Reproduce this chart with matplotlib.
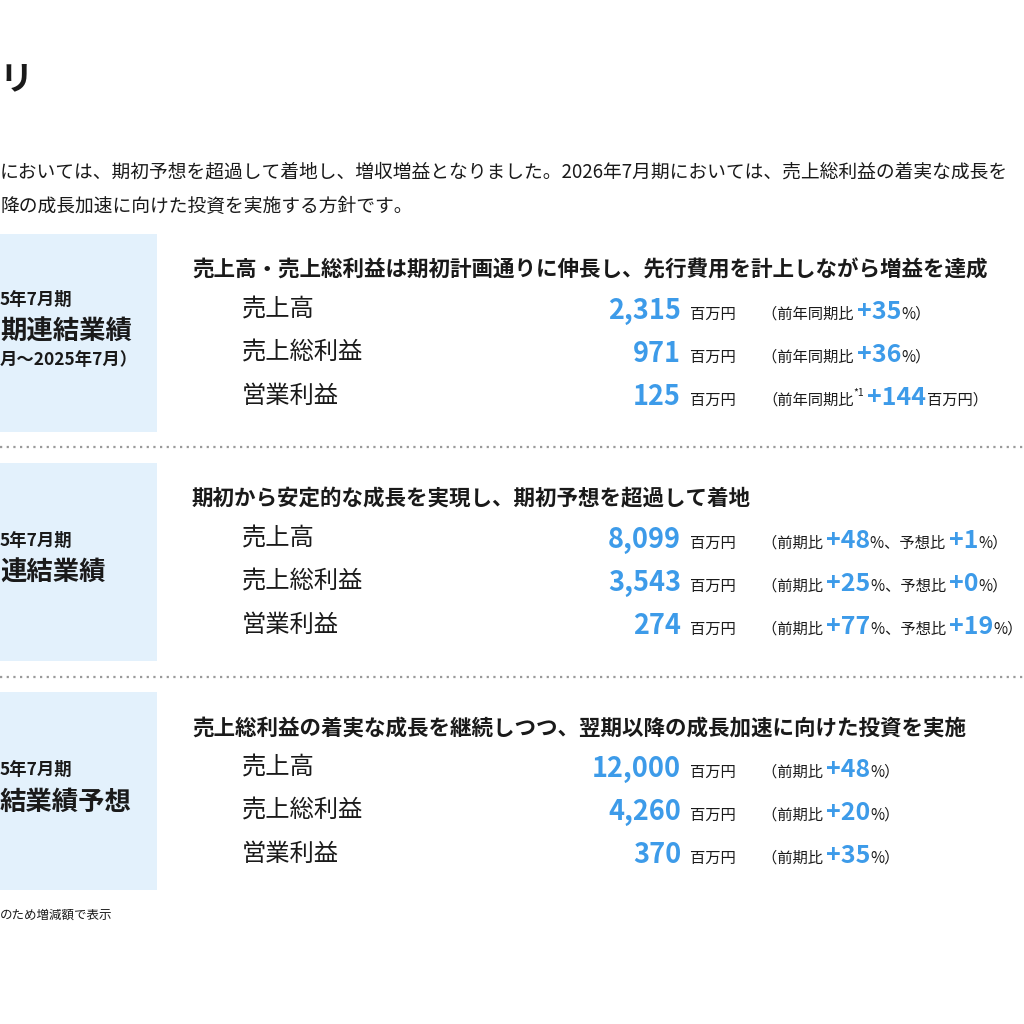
"""Earnings summary slide (cropped): three blue label panels with KPI rows."""
import matplotlib

matplotlib.use("agg")
import matplotlib.pyplot as plt  # noqa: E402

plt.rcParams["font.family"] = ["Noto Sans CJK JP", "DejaVu Sans"]

BLUE = "#3D9BE9"
INK = "#1A1A1A"
PANEL = "#E3F1FC"

title = "リ"
body_lines = [
    "においては、期初予想を超過して着地し、増収増益となりました。2026年7月期においては、売上総利益の着実な成長を",
    "降の成長加速に向けた投資を実施する方針です。",
]
panel_lines = [
    ["5年7月期", "期連結業績", "月～2025年7月）"],
    ["5年7月期", "連結業績"],
    ["5年7月期", "結業績予想"],
]
headings = [
    "売上高・売上総利益は期初計画通りに伸長し、先行費用を計上しながら増益を達成",
    "期初から安定的な成長を実現し、期初予想を超過して着地",
    "売上総利益の着実な成長を継続しつつ、翌期以降の成長加速に向けた投資を実施",
]
row_labels = ["売上高", "売上総利益", "営業利益"]
values = [
    ["2,315", "971", "125"],
    ["8,099", "3,543", "274"],
    ["12,000", "4,260", "370"],
]
# parenthetical pieces: (text, style) with style n=normal, b=blue bold, s=superscript
notes = [
    [[("（前年同期比 ", "n"), ("+35", "b"), ("%）", "n")],
     [("（前年同期比 ", "n"), ("+36", "b"), ("%）", "n")],
     [("（前年同期比", "n"), ("*1", "s"), (" ", "n"), ("+144", "b"), ("百万円）", "n")]],
    [[("（前期比 ", "n"), ("+48", "b"), ("%、予想比 ", "n"), ("+1", "b"), ("%）", "n")],
     [("（前期比 ", "n"), ("+25", "b"), ("%、予想比 ", "n"), ("+0", "b"), ("%）", "n")],
     [("（前期比 ", "n"), ("+77", "b"), ("%、予想比 ", "n"), ("+19", "b"), ("%）", "n")]],
    [[("（前期比 ", "n"), ("+48", "b"), ("%）", "n")],
     [("（前期比 ", "n"), ("+20", "b"), ("%）", "n")],
     [("（前期比 ", "n"), ("+35", "b"), ("%）", "n")]],
]
footnote = "のため増減額で表示"

panel_top = [234, 463, 692]
panel_h = 198

fig = plt.figure(figsize=(10.24, 10.24), dpi=100)
ax = fig.add_axes([0, 0, 1, 1])
ax.set_xlim(0, 1024)
ax.set_ylim(1024, 0)
ax.axis("off")
renderer = fig.canvas.get_renderer()

ax.text(0, 80, title, fontsize=24, fontweight="bold", color=INK, va="center")
for i, line in enumerate(body_lines):
    ax.text(0, 172 + 34 * i, line, fontsize=13.5, color=INK, va="center")

for p, top in enumerate(panel_top):
    ax.add_patch(plt.Rectangle((0, top), 157, panel_h, color=PANEL, lw=0))
    lines = panel_lines[p]
    ys = [top + 66, top + 98, top + 126] if len(lines) == 3 else [top + 78, top + 110]
    for k, (txt, y) in enumerate(zip(lines, ys)):
        ax.text(0, y, txt, fontsize=19 if k == 1 else 12.5, fontweight="bold",
                color=INK, va="center", ha="left")
    ax.text(192, top + 36, headings[p], fontsize=15.5, fontweight="bold", color=INK, va="center")
    for r, lab in enumerate(row_labels):
        y = top + 76 + 43 * r
        base = y + 9
        ax.text(242, y, lab, fontsize=17.5, color=INK, va="center")
        ax.text(681, base, values[p][r], fontsize=19.5, fontweight="bold", color=BLUE,
                va="baseline", ha="right")
        ax.text(690, base, "百万円", fontsize=11, color=INK, va="baseline")
        x = 762
        for txt, st in notes[p][r]:
            kw = dict(fontsize=11, color=INK)
            yy = base
            if st == "b":
                kw = dict(fontsize=18, fontweight="bold", color=BLUE)
            elif st == "s":
                kw = dict(fontsize=7.5, color=INK)
                yy = base - 9
            t = ax.text(x, yy, txt, va="baseline", **kw)
            x += t.get_window_extent(renderer).width

for y in [447, 677]:
    ax.plot([0, 1024], [y, y], color="#9A9A9A", lw=1.6, ls=(0, (1, 2)))

ax.text(0, 915, footnote, fontsize=9, color=INK, va="center")

fig.savefig("out.png", dpi=100, facecolor="white")
